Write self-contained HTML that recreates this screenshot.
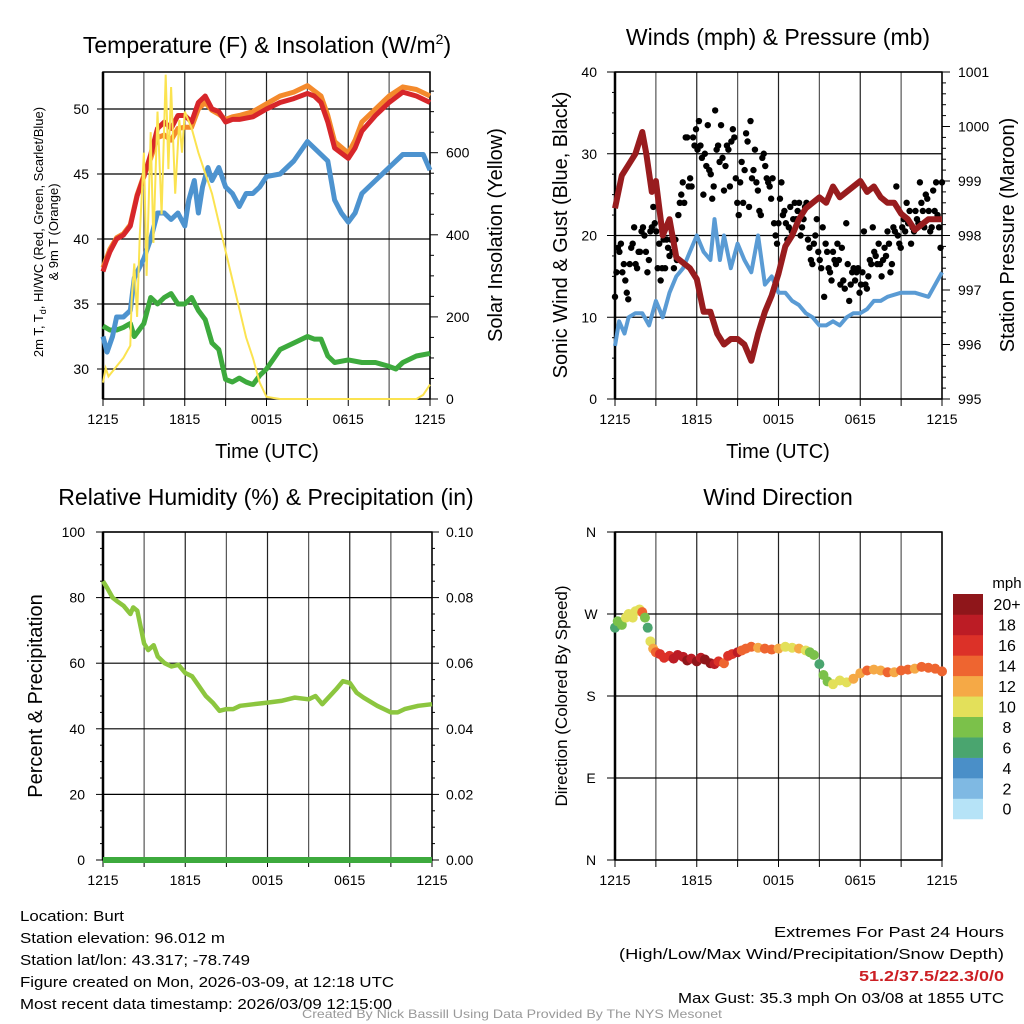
<!DOCTYPE html>
<html><head><meta charset="utf-8"><style>
body{margin:0;background:#fff;}
svg{display:block;font-family:"Liberation Sans",sans-serif;}
</style></head><body>
<svg id="c" width="1024" height="1024" viewBox="0 0 1024 1024"></svg>
<script>
// ---------- DATA ----------
const tempT=[0,0.25,0.5,1,1.5,2,2.5,3,3.5,4,4.5,5,5.5,6,6.5,7,7.5,8,8.5,9,9.5,10,11,12,13,14,15,15.5,16,16.5,17,18,18.5,19,20,21,22,23,24];
const tempRed=[37.5,38.3,39,40,40.3,41,43.3,44.8,46.5,48.5,49,48.5,49.5,49.5,49,50.5,51,50,49.8,49,49.2,49.2,49.4,50,50.5,50.8,51.2,51,50.5,49,47,46.2,47,48.3,49.5,50.5,51.3,51,50.5];
const tempOrange=[37.8,38.5,39.2,40.1,40.4,41.1,43.4,44.9,46.2,47.8,48,47.6,48.5,48.6,48.6,50,50.5,49.9,49.6,49.2,49.4,49.5,49.8,50.4,51,51.3,51.8,51.4,51,49.5,47.5,46.6,47.6,49,50,51,51.7,51.5,51];
const hiT=[0,0.3,0.7,1,1.5,2,2.3,3,3.5,4,4.5,5,5.5,6,6.3,6.7,7,7.3,7.7,8,8.5,9,9.5,10,10.5,11,11.5,12,13,14,15,15.5,16,16.5,17,17.5,18,18.5,19,20,21,22,23,23.5,24];
const hiBlue=[32.5,31.3,32.5,34,34,34.5,37,38.5,40,42,42,41.5,42,41,43,44.5,42,44,45.5,44.5,45.5,44,43.5,42.5,43.5,43.5,44,44.8,45,46,47.5,47,46.5,46,43,42,41.3,42,43.5,44.5,45.5,46.5,46.5,46.5,45.3];
const dpT=[0,0.5,1,1.5,2,2.3,3,3.5,4,4.5,5,5.5,6,6.5,7,7.5,8,8.5,9,9.5,10,10.5,11,11.5,12,13,14,15,15.5,16,16.5,17,18,19,20,21,21.5,22,23,24];
const dpGreen=[33.3,33,33,33.2,33.5,32.5,33.5,35.5,35,35.5,35.8,35,35,35.5,34.5,33.8,32,31.5,29.2,29,29.3,29,28.8,29.5,30,31.5,32,32.5,32.3,32.3,31,30.5,30.7,30.5,30.5,30.2,30,30.5,31,31.2];
const solT=[0,0.2,0.4,1,1.5,2,2.1,2.3,2.5,2.7,3,3.2,3.5,3.7,4,4.3,4.6,4.8,5,5.3,5.6,5.8,6,6.5,7,8,9,10,10.5,11,11.5,12,13,23,23.5,24];
const solar=[40,75,55,80,100,130,240,330,200,400,600,300,650,380,700,450,790,560,760,500,680,600,700,660,600,500,360,220,150,100,40,5,0,0,10,35];
const windT=[0,0.3,0.7,1,1.5,2,2.5,3,3.5,4,4.5,5,5.5,6,6.5,7,7.3,7.7,8,8.5,9,9.5,10,10.5,11,11.5,12,12.5,13,13.5,14,14.5,15,15.5,16,16.5,17,17.5,18,18.5,19,19.5,20,21,22,23,24];
const windBlue=[6.5,9.5,8,10,10.5,10.5,9,12,10,13,15,16,18,20,18,17,22,17,20,16,19,17,15.5,20,14,15,13,13,12,11.5,10.5,10,9,9,9.5,9,10,10.5,10.5,11,12,12,12.5,13,13,12.5,15.5];
const presT=[0,0.5,1,1.5,2,2.3,2.7,3,3.3,3.5,4,4.5,5,5.5,6,6.5,7,7.5,8,8.5,9,9.5,10,10.5,11,11.5,12,12.5,13,13.5,14,15,15.5,16,16.5,17,18,18.5,19,19.5,20,20.5,21,21.5,22,22.5,23,24];
const pressure=[998.5,999.1,999.3,999.5,999.9,999.5,998.8,999,998.4,998,998.3,997.6,997.5,997.4,997.2,996.6,996.6,996.2,996,996.1,996.1,996,995.7,996.2,996.6,996.9,997.3,997.8,998,998.3,998.5,998.7,998.6,998.9,998.7,998.8,999,998.8,998.9,998.7,998.6,998.6,998.4,998.3,998.1,998.2,998.3,998.3];
const gusts=[12.5,15.5,18.5,18,19,15.5,16.5,14.5,13,12.2,16.5,18.5,19,21,16.5,16,18,18,20.5,21,20,18,15.5,17,20.5,21,23.5,21.5,20.5,16,19,14.5,16,19.5,16,19.5,18.5,17.5,19.5,18,16,19.5,17,22.5,24,25,26.5,24,32,32,26,27,26,32,31,33,30.5,34,31,29.5,25,30,28.5,33.5,28,27.5,24.5,26,35.3,30.5,31,29,33.5,29.5,25.5,28.5,31,30.5,26,31.5,33,32,27,24,22.5,26.5,29,24,28,32.5,31.5,23.5,34,27,28,30.5,26.5,25.5,23,22.5,29.5,30,28.5,27,26.5,26,24.5,27,21.5,20,19,21.5,24.5,26.5,22.5,23,21.5,19.5,21,23.5,20.5,22,24,22,23,24,20,21,22,23.5,24,19.5,18.5,17,16.5,19,20,22,18,17,16,21,12.5,19,18,16,15.5,14.5,18,17,16.5,19,17,14,18.5,14.5,13.5,21.5,16.5,12,14,15.5,16,14.5,15.5,16,13,14,15.5,20.5,14,13.5,15,17,16.5,21,18,17.5,16.5,19,16.5,15,17,18.5,17.5,20.5,19,15.5,16.5,21,20.5,26,20,19,18.5,21,22,20.5,24,21.5,23,19,21,20.5,23,22,21.5,26.5,24,23,21,25,24.5,23,20.5,21,25.5,23,26.5,22.5,21,18.5,26.5];
const rhT=[0,0.3,0.7,1,1.5,2,2.2,2.5,2.8,3,3.3,3.7,4,4.5,5,5.5,6,6.5,7,7.5,8,8.5,9,9.5,10,11,12,13,14,15,15.5,16,17,17.5,18,18.5,19,20,21,21.5,22,23,24];
const rh=[85,83,80,79,77.5,75,77,76,70,66,64,65.5,62,60,59,59.5,57,56,53,50,48,45.5,46,46,47,47.5,48,48.5,49.5,49,50,47.5,52,54.5,54,51,49.5,47,45,45,46,47,47.5];
const dirT=[0,0.2,0.5,0.8,1,1.3,1.5,1.8,2,2.2,2.4,2.6,2.8,3,3.3,3.6,4,4.3,4.6,5,5.3,5.6,6,6.3,6.6,7,7.3,7.6,8,8.3,8.6,9,9.3,9.6,10,10.5,11,11.5,12,12.5,13,13.5,14,14.3,14.6,15,15.3,15.6,16,16.5,17,17.5,18,18.5,19,19.5,20,20.5,21,21.5,22,22.5,23,23.5,24];
const dirDeg=[255,262,258,266,270,266,273,275,272,266,255,240,232,228,226,222,224,221,225,223,219,221,218,222,220,216,215,218,216,224,226,228,230,232,234,233,232,231,232,234,233,232,230,228,225,215,203,196,193,197,195,199,205,208,209,208,206,206,208,209,210,212,211,210,207];
const dirSpd=[7,8,9,10,10,11,10,11,14,8,7,11,12,15,16,16,17,18,19,18,20,19,21,19,20,20,18,17,15,16,17,18,15,14,14,13,14,15,12,11,10,12,11,9,8,7,8,9,10,10,11,12,13,14,13,12,14,13,14,14,13,15,14,15,14];
const spdColors=["#b6e3f7","#7fb9e3","#4a8fc8","#4aa56f","#7bc14a","#e3e05a","#f5a946","#ee6530","#dc3128","#bc1c25","#8f161a"];
const spdLabels=["0","2","4","6","8","10","12","14","16","18","20+"];
const xTickLabels=["1215","1815","0015","0615","1215"];

// ---------- HELPERS ----------
const NS="http://www.w3.org/2000/svg";
const svg=document.getElementById('c');
function mk(tag,attrs,parent){const e=document.createElementNS(NS,tag);for(const k in attrs)e.setAttribute(k,attrs[k]);(parent||svg).appendChild(e);return e;}
function txt(s,x,y,size,anchor,extra){const e=mk('text',Object.assign({x:x,y:y,'font-size':size,'text-anchor':anchor||'middle',fill:'#000'},extra||{}));e.textContent=s;return e;}
function lin(d0,d1,r0,r1){return v=>r0+(v-d0)/(d1-d0)*(r1-r0);}
function pathFrom(ts,vs,xs,ys){return ts.map((t,i)=>(i?'L':'M')+xs(t).toFixed(1)+','+ys(vs[i]).toFixed(1)).join('');}

function frame(x0,x1,y0,y1,hLines,name){
  const g=mk('g',{});
  
  
  for(let i=0;i<=8;i++){const x=x0+(x1-x0)*i/8;mk('line',{x1:x,y1:y0,x2:x,y2:y1,stroke:i%2?'#555':'#222','stroke-width':1.2},g);
    mk('line',{x1:x,y1:y1,x2:x,y2:y1+7,stroke:'#000','stroke-width':1},g);}
  hLines.forEach(y=>mk('line',{x1:x0,y1:y,x2:x1,y2:y,stroke:'#000','stroke-width':1.2},g));
  mk('rect',{x:x0,y:y0,width:x1-x0,height:y1-y0,fill:'none',stroke:'#000','stroke-width':1.5},g);
  mk('line',{x1:x0,y1:y0,x2:x0,y2:y1,stroke:'#000','stroke-width':2.5},g);
  xTickLabels.forEach((s,i)=>{const t=txt(s,x0+(x1-x0)*i/4,y1+25,14);
    
    });
}

// ---------- PANEL 1 ----------
{
const X0=103,X1=430,Y0=72,Y1=399;
const xs=lin(0,24,X0,X1), yT=lin(30,50,369,109), yS=lin(0,600,399,152.7);
frame(X0,X1,Y0,Y1,[30,35,40,45,50].map(yT),'temperature');
[30,35,40,45,50].forEach(v=>{mk('line',{x1:X0-6,y1:yT(v),x2:X0,y2:yT(v),stroke:'#000'});const t=txt(String(v),X0-14,yT(v)+5,14,'end');});
for(let v=0;v<=750;v+=50){mk('line',{x1:X1,y1:yS(v),x2:X1+(v%200?4:8),y2:yS(v),stroke:'#000'});}
[0,200,400,600].forEach(v=>{const t=txt(String(v),X1+16,yS(v)+5,14,'start');});
const series=[[dpT,dpGreen,'#3daa3d','dewpoint-line'],[hiT,hiBlue,'#4d93cf','heat-index-line'],[tempT,tempOrange,'#f48a2c','temp-9m-line'],[tempT,tempRed,'#d7262a','temp-2m-line']];
series.forEach(s=>{const p=mk('path',{d:pathFrom(s[0],s[1],xs,yT),fill:'none',stroke:s[2],'stroke-width':5,'stroke-linejoin':'round'});});
const sp=mk('path',{d:pathFrom(solT,solar,xs,yS),fill:'none',stroke:'#fbe350','stroke-width':2});


let t=mk('text',{x:267,y:53,'font-size':23,'text-anchor':'middle'});
t.innerHTML='Temperature (F) &amp; Insolation (W/m<tspan font-size="14" dy="-9">2</tspan><tspan dy="9">)</tspan>';

t=txt('Time (UTC)',267,458,20);
t=mk('text',{x:0,y:0,'font-size':13,'text-anchor':'middle',transform:'translate(43,232) rotate(-90)'});
t.innerHTML='2m T, T<tspan font-size="9" dy="3">d</tspan><tspan dy="-3">, HI/WC (Red, Green, Scarlet/Blue)</tspan>';

t=txt('& 9m T (Orange)',0,0,13,'middle',{transform:'translate(58,232) rotate(-90)'});
t=txt('Solar Insolation (Yellow)',0,0,20,'middle',{transform:'translate(502,235) rotate(-90)'});
}

// ---------- PANEL 2 ----------
{
const X0=615,X1=942,Y0=72,Y1=399;
const xs=lin(0,24,X0,X1), yW=lin(0,40,Y1,Y0), yP=lin(995,1001,Y1,Y0);
frame(X0,X1,Y0,Y1,[0,10,20,30,40].map(yW),'wind');
for(let v=0;v<=40;v+=2.5){mk('line',{x1:X0-(v%10?3:8),y1:yW(v),x2:X0,y2:yW(v),stroke:'#000'});}
[0,10,20,30,40].forEach(v=>{const t=txt(String(v),X0-18,yW(v)+5,14,'end');});
for(let v=995;v<=1001.001;v+=0.2){mk('line',{x1:X1,y1:yP(v),x2:X1+(Math.abs(v-Math.round(v))<0.01?8:4),y2:yP(v),stroke:'#000'});}
[995,996,997,998,999,1000,1001].forEach(v=>{const t=txt(String(v),X1+16,yP(v)+5,14,'start');});
let p=mk('path',{d:pathFrom(windT,windBlue,xs,yW),fill:'none',stroke:'#5a9bd4','stroke-width':4,'stroke-linejoin':'round'});

const gg=mk('g',{});
gusts.forEach((v,i)=>{const c=mk('circle',{cx:xs(i*24/(gusts.length-1)),cy:yW(v),r:3.2,fill:'#000'},gg);
  
  });
p=mk('path',{d:pathFrom(presT,pressure,xs,yP),fill:'none',stroke:'#981c1e','stroke-width':6,'stroke-linejoin':'round'});

let t=txt('Winds (mph) & Pressure (mb)',778,45,23);
t=txt('Time (UTC)',778,458,20);
t=txt('Sonic Wind & Gust (Blue, Black)',0,0,20,'middle',{transform:'translate(567,235) rotate(-90)'});
t=txt('Station Pressure (Maroon)',0,0,20,'middle',{transform:'translate(1014,235) rotate(-90)'});
}

// ---------- PANEL 3 ----------
{
const X0=103,X1=432,Y0=532,Y1=860;
const xs=lin(0,24,X0,X1), yR=lin(0,100,Y1,Y0);
frame(X0,X1,Y0,Y1,[0,20,40,60,80,100].map(yR),'humidity');
[0,20,40,60,80,100].forEach((v,i)=>{const t=txt(String(v),X0-18,yR(v)+5,14,'end');
 const t2=txt((v/1000).toFixed(2),X1+14,yR(v)+5,14,'start');});
for(let v=0;v<=100;v+=5){mk('line',{x1:X0-(v%20?3:7),y1:yR(v),x2:X0,y2:yR(v),stroke:'#000'});mk('line',{x1:X1,y1:yR(v),x2:X1+(v%20?3:7),y2:yR(v),stroke:'#000'});}
let p=mk('path',{d:pathFrom(rhT,rh,xs,yR),fill:'none',stroke:'#8cc63f','stroke-width':4.5,'stroke-linejoin':'round'});

p=mk('line',{x1:X0,y1:Y1,x2:X1,y2:Y1,stroke:'#3daa3d','stroke-width':6});

let t=txt('Relative Humidity (%) & Precipitation (in)',266,505,23);
t=txt('Percent & Precipitation',0,0,20,'middle',{transform:'translate(42,696) rotate(-90)'});
}

// ---------- PANEL 4 ----------
{
const X0=615,X1=942,Y0=532,Y1=860;
const xs=lin(0,24,X0,X1), yD=lin(0,360,Y1,Y0);
frame(X0,X1,Y0,Y1,[0,90,180,270,360].map(yD),'direction');
[0,90,180,270,360].forEach(v=>mk('line',{x1:X0-8,y1:yD(v),x2:X0,y2:yD(v),stroke:'#000'}));
['N','E','S','W','N'].forEach((s,i)=>{const t=txt(s,591,yD(i*90)+5,14);});
const gd=mk('g',{});
dirT.forEach((tt,i)=>{const ci=Math.min(10,Math.floor(dirSpd[i]/2));
  const c=mk('circle',{cx:xs(tt),cy:yD(dirDeg[i]),r:5,fill:spdColors[ci]},gd);
  
  });
let t=txt('Wind Direction',778,505,23);
t=txt('Direction (Colored By Speed)',0,0,17,'middle',{transform:'translate(567,696) rotate(-90)'});
const cb=mk('g',{});
const bx=953,bTop=594,bh=20.45;
spdColors.forEach((c,i)=>{const y=bTop+(10-i)*bh;mk('rect',{x:bx,y:y,width:30,height:bh+0.3,fill:c},cb);
  const l=txt(spdLabels[i],1007,y+bh/2+6,16,'middle');});
t=txt('mph',1007,588,15);
}

// ---------- FOOTER TEXT ----------
const left=[['Location: Burt',104],['Station elevation: 96.012 m',205],['Station lat/lon: 43.317; -78.749',230],['Figure created on Mon, 2026-03-09, at 12:18 UTC',374],['Most recent data timestamp: 2026/03/09 12:15:00',372]];
left.forEach((l,i)=>{const t=txt(l[0],20,921+i*22,15,'start',{textLength:l[1],lengthAdjust:'spacingAndGlyphs'});});
const right=[['Extremes For Past 24 Hours',230,'#000',937,'normal'],['(High/Low/Max Wind/Precipitation/Snow Depth)',385,'#000',959,'normal'],['51.2/37.5/22.3/0/0',145,'#cc1f24',981,'bold'],['Max Gust: 35.3 mph On 03/08 at 1855 UTC',326,'#000',1003,'normal']];
right.forEach(r=>{const t=txt(r[0],1004-r[1],r[3],15,'start',{textLength:r[1],lengthAdjust:'spacingAndGlyphs',fill:r[2],'font-weight':r[4]});});
const ft=txt('Created By Nick Bassill Using Data Provided By The NYS Mesonet',512,1018,12,'middle',{fill:'#999',textLength:420,lengthAdjust:'spacingAndGlyphs'});


</script>
</body></html>
